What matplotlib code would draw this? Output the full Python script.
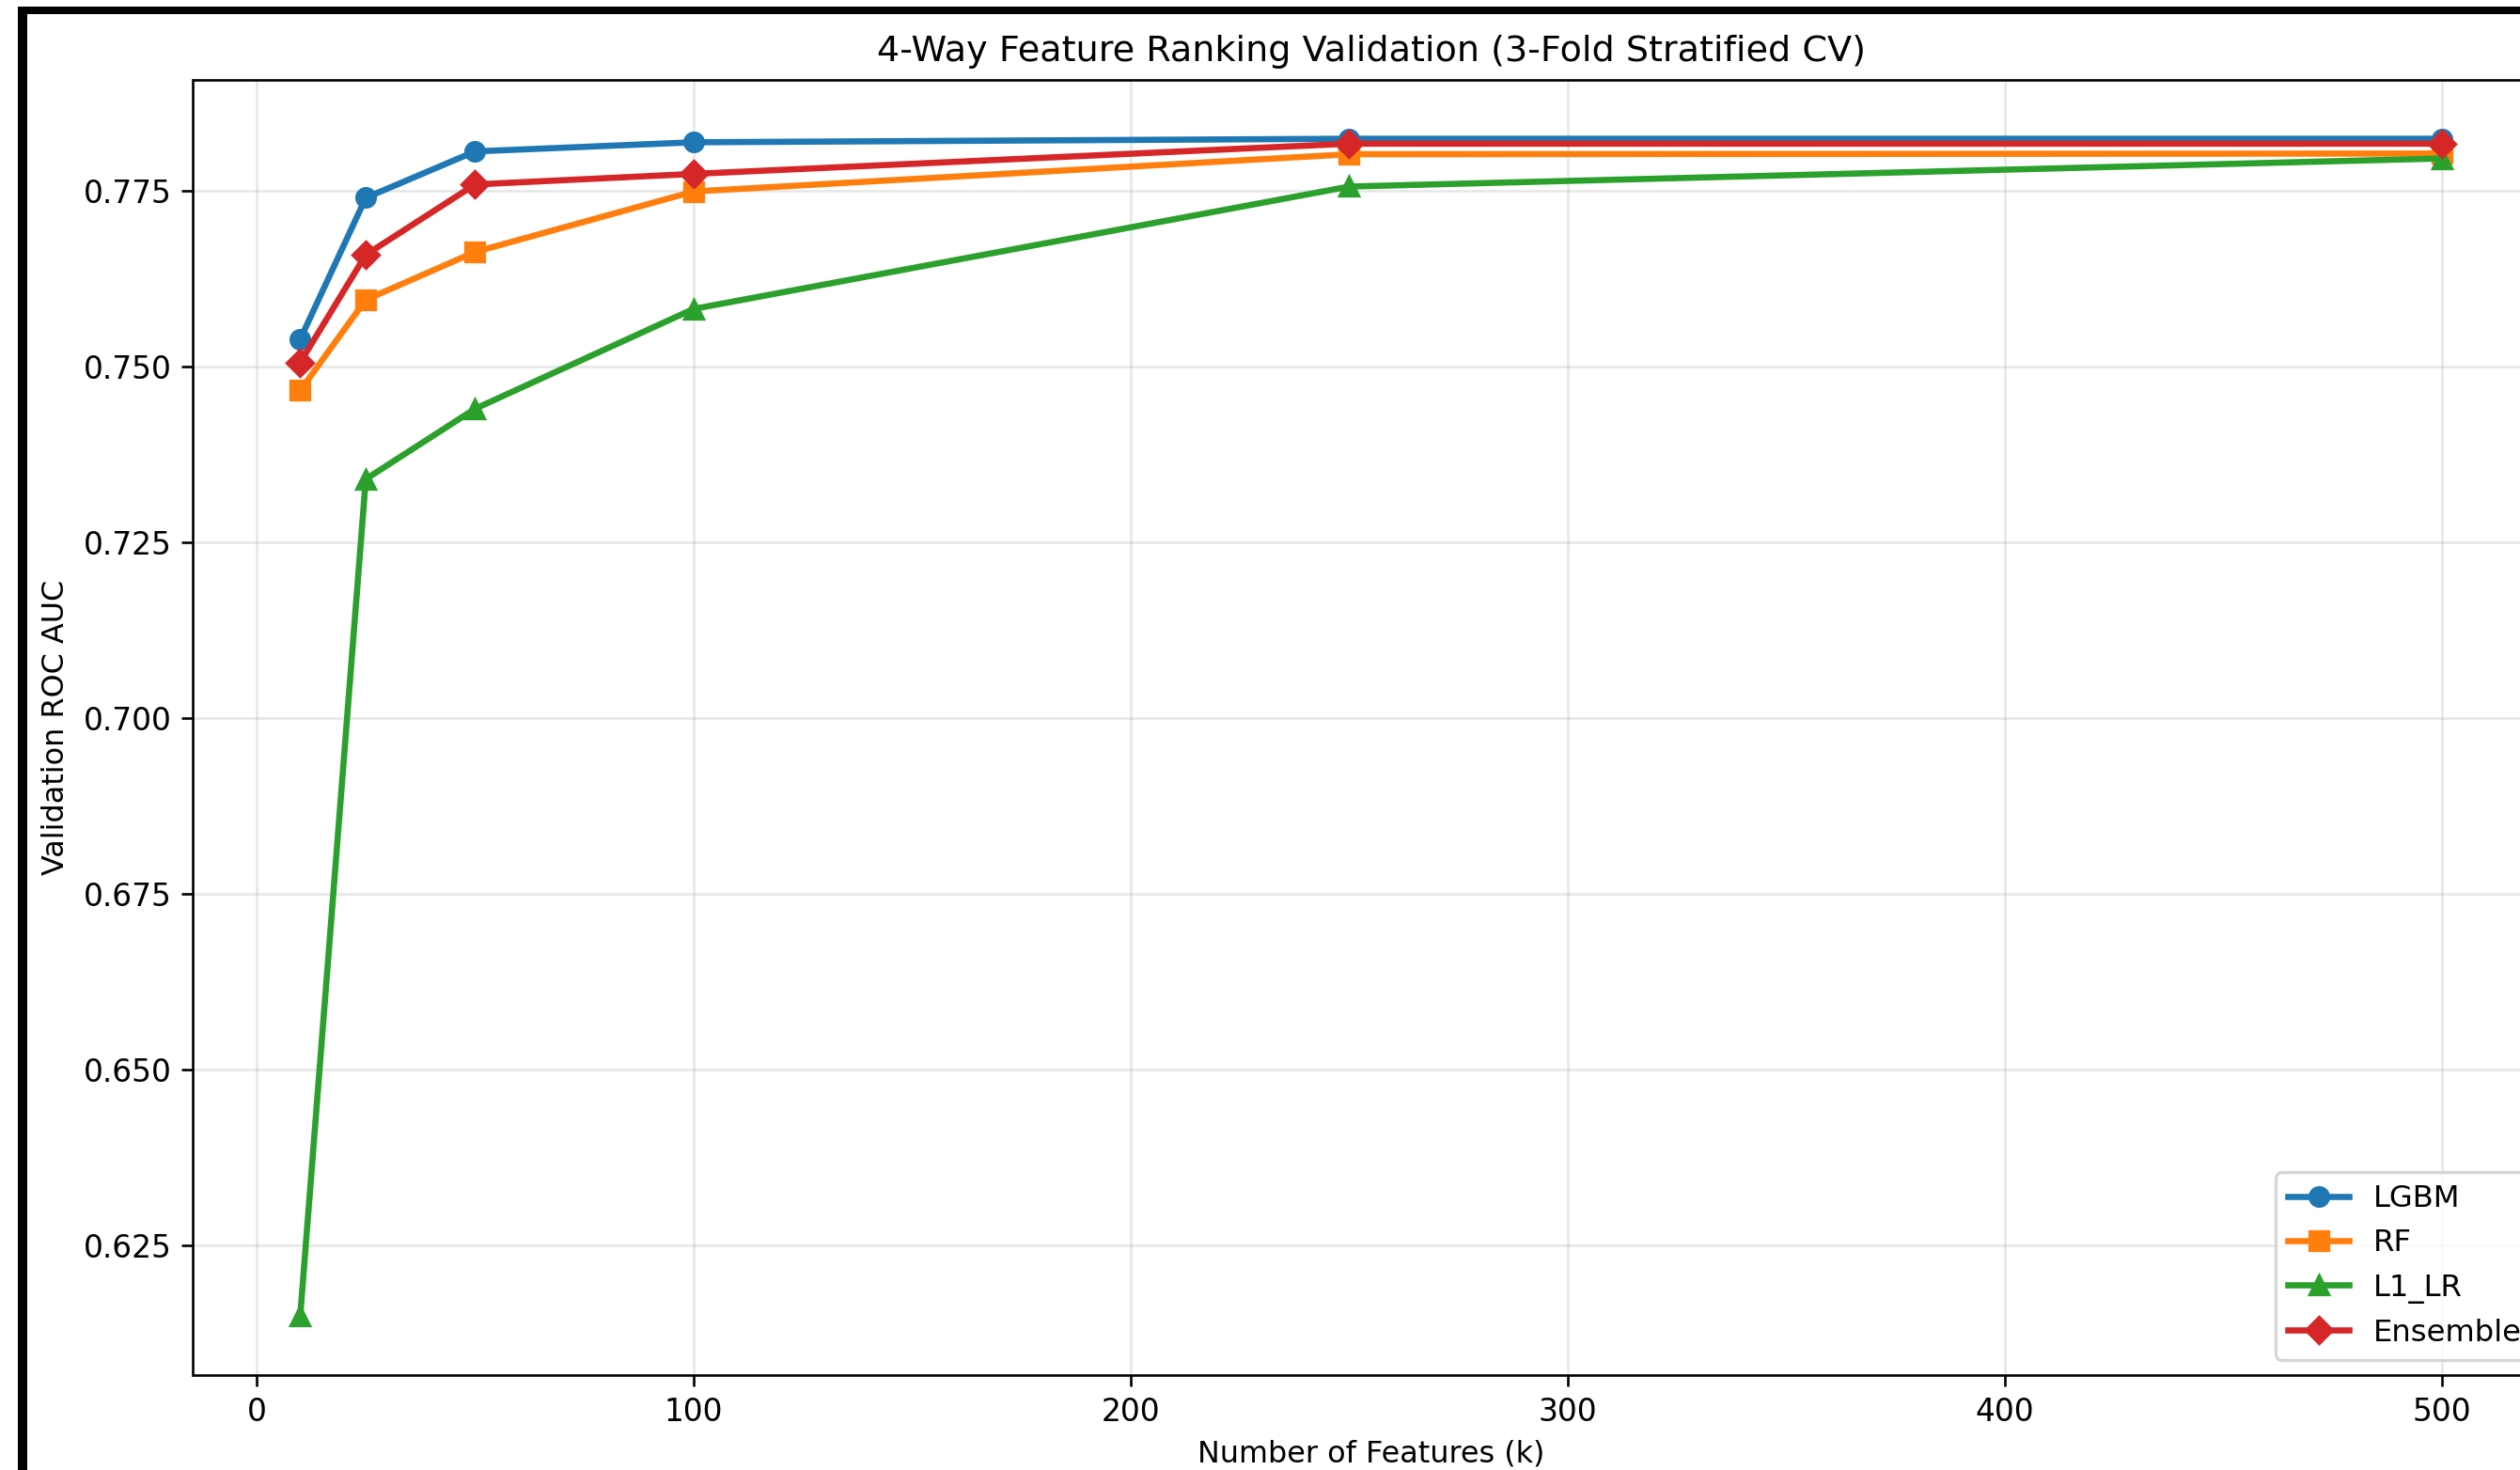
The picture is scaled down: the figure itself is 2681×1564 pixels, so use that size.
import matplotlib
matplotlib.use('Agg')
import matplotlib.pyplot as plt
from matplotlib.patches import Rectangle

# feature counts (k) and validation AUC per ranking method
k_values = [10, 25, 50, 100, 250, 500]
lgbm = [0.7539, 0.7740, 0.7806, 0.7819, 0.7824, 0.7824]
rf = [0.7466, 0.7595, 0.7663, 0.7749, 0.7802, 0.7803]
l1_lr = [0.6150, 0.7340, 0.7440, 0.7582, 0.7756, 0.7796]
ensemble = [0.7506, 0.7659, 0.7759, 0.7774, 0.7817, 0.7817]

W, H, DPI = 2681, 1564, 237
fig = plt.figure(figsize=(W / DPI, H / DPI), dpi=DPI)
#axes placed so that the right side runs past the screenshot edge
ax = fig.add_axes([205.5 / W, 101.3 / H, (2711.6 - 205.5) / W, (1462.7 - 85) / H])

ax.plot(k_values, lgbm, marker='o', color='#1f77b4', lw=2, label='LGBM')
ax.plot(k_values, rf, marker='s', color='#ff7f0e', lw=2, label='RF')
ax.plot(k_values, l1_lr, marker='^', color='#2ca02c', lw=2, label='L1_LR')
ax.plot(k_values, ensemble, marker='D', color='#d62728', lw=2, label='Ensemble')

ax.set_title('4-Way Feature Ranking Validation (3-Fold Stratified CV)', fontsize=11.6)
ax.set_xlabel('Number of Features (k)', fontsize=9.7)
ax.set_ylabel('Validation ROC AUC', fontsize=9.7)
ax.grid(True, alpha=0.3)
ax.legend(loc='lower right', fontsize=9.8)

#black screenshot frame at top and left
fig.add_artist(Rectangle((19 / W, 0), 10 / W, 1 - 7 / H, transform=fig.transFigure,
                         color='black', lw=0))
fig.add_artist(Rectangle((19 / W, 1 - 15 / H), 1, 8 / H, transform=fig.transFigure,
                         color='black', lw=0))

fig.savefig('out.png', dpi=DPI)
plt.close()
